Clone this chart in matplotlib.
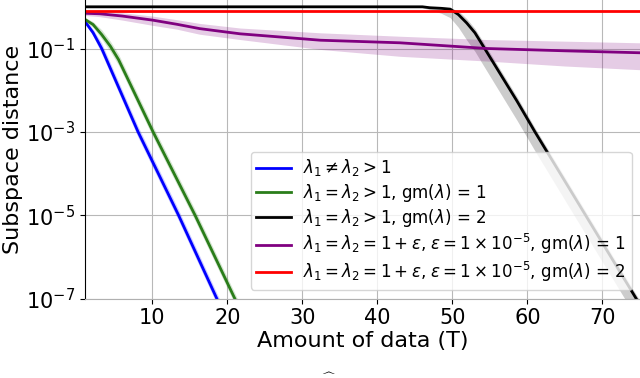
import matplotlib
matplotlib.use("Agg")
import matplotlib.pyplot as plt

# lambda1 != lambda2 > 1
t_blue = [1, 2.1, 3.25, 8.1, 13.5, 18.6, 20]
blue = [0.45, 0.24, 0.1, 1e-3, 1e-5, 1e-7, 3e-8]
blue_lo = [0.4, 0.2, 0.075, 7.4e-4, 7.4e-6, 7.4e-8, 2.2e-8]
blue_hi = [0.5, 0.29, 0.135, 1.35e-3, 1.35e-5, 1.35e-7, 4e-8]

# lambda1 = lambda2 > 1, gm = 1
t_green = [1, 2.1, 3.25, 4.4, 5.5, 10.1, 15.7, 21, 22]
green = [0.5, 0.376, 0.216, 0.114, 0.054, 1e-3, 1e-5, 1e-7, 4.2e-8]
green_lo = [0.44, 0.32, 0.17, 0.085, 0.04, 7.4e-4, 7.4e-6, 7.4e-8, 3.1e-8]
green_hi = [0.56, 0.44, 0.28, 0.15, 0.073, 1.35e-3, 1.35e-5, 1.35e-7, 5.7e-8]

# lambda1 = lambda2 > 1, gm = 2
t_black = [1, 46, 47, 48.5, 49.7, 50.8, 51.9, 53.0, 54.1, 58.6, 61, 74.5, 75]
black = [1.0, 1.0, 0.95, 0.92, 0.88, 0.65, 0.41, 0.238, 0.114, 0.0055, 1e-3, 1e-7, 7e-8]
black_lo = [0.95, 0.95, 0.85, 0.7, 0.55, 0.32, 0.16, 0.085, 0.04, 0.0019, 3.5e-4, 3.5e-8, 2.5e-8]
black_hi = [1.05, 1.05, 1.0, 0.98, 0.95, 0.8, 0.52, 0.3, 0.145, 0.007, 1.25e-3, 1.25e-7, 9e-8]

# lambda1 = lambda2 = 1 + eps, gm = 1
t_purple = [1, 3, 6, 10, 13.3, 16.3, 21.7, 32.4, 43, 54.6, 65, 75]
purple = [0.7, 0.68, 0.6, 0.48, 0.38, 0.3, 0.225, 0.158, 0.137, 0.1, 0.088, 0.079]
purple_lo = [0.62, 0.58, 0.48, 0.36, 0.29, 0.22, 0.164, 0.095, 0.065, 0.05, 0.038, 0.031]
purple_hi = [0.78, 0.77, 0.72, 0.6, 0.49, 0.4, 0.31, 0.238, 0.197, 0.164, 0.15, 0.137]

# lambda1 = lambda2 = 1 + eps, gm = 2
t_red = [1, 75]
red = [0.78, 0.78]
red_lo = [0.75, 0.75]
red_hi = [0.81, 0.81]

labels = [
    r"$\lambda_1 \neq \lambda_2 > 1$",
    r"$\lambda_1 = \lambda_2 > 1$, gm($\lambda$) = 1",
    r"$\lambda_1 = \lambda_2 > 1$, gm($\lambda$) = 2",
    r"$\lambda_1 = \lambda_2 = 1+\varepsilon$, $\varepsilon = 1\times10^{-5}$, gm($\lambda$) = 1",
    r"$\lambda_1 = \lambda_2 = 1+\varepsilon$, $\varepsilon = 1\times10^{-5}$, gm($\lambda$) = 2",
]

fig = plt.figure(figsize=(6.4, 3.78), dpi=100)
ax = fig.add_axes([0.1325, 0.2098, 0.8675, 0.7902])

series = [
    (t_blue, blue, blue_lo, blue_hi, "blue"),
    (t_green, green, green_lo, green_hi, "#2a7d1a"),
    (t_black, black, black_lo, black_hi, "black"),
    (t_purple, purple, purple_lo, purple_hi, "purple"),
    (t_red, red, red_lo, red_hi, "red"),
]
for (t, y, lo, hi, c), lab in zip(series, labels):
    ax.fill_between(t, lo, hi, color=c, alpha=0.2, linewidth=0)
    ax.plot(t, y, color=c, lw=2, label=lab)

ax.set_yscale("log")
ax.set_xlim(1, 75)
ax.set_ylim(1e-7, 1.456)
ax.set_yticks([1e-1, 1e-3, 1e-5, 1e-7])
ax.set_xticks([10, 20, 30, 40, 50, 60, 70])
ax.minorticks_off()
ax.tick_params(labelsize=15)
ax.grid(True, color="#b8b8b8", lw=0.8)
ax.set_axisbelow(True)
for s in ["top", "right"]:
    ax.spines[s].set_visible(False)
ax.spines["bottom"].set_color("#b0b0b0")

ax.set_xlabel("Amount of data (T)", fontsize=16, labelpad=2)
ax.set_ylabel("Subspace distance", fontsize=16, labelpad=2)

ax.legend(loc="lower right", fontsize=12, bbox_to_anchor=(0.985, 0.03),
          borderaxespad=0, handlelength=2.1, handletextpad=0.7,
          labelspacing=0.2, borderpad=0.35)

# caption hat peeking in at the bottom edge
fig.text(0.512, 0.0, r"$\widehat{\ \ \ }$", fontsize=9, ha="center", va="bottom")

fig.savefig("out.png", dpi=100)
